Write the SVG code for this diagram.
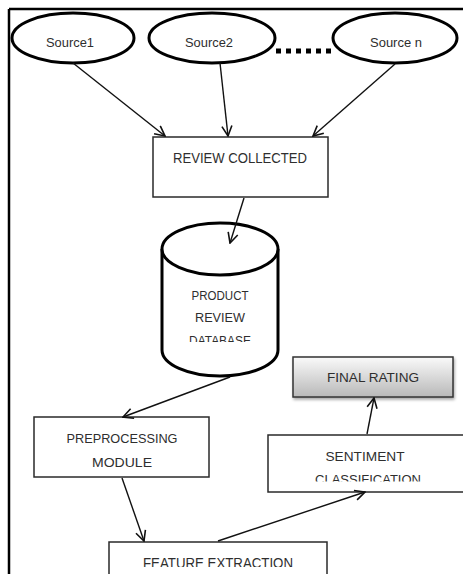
<svg xmlns="http://www.w3.org/2000/svg" width="463" height="574" viewBox="0 0 463 574">
<style>
.t{font-family:"Liberation Sans",Arial,sans-serif;fill:#2e2e2e;text-anchor:middle}
.src{font-size:13px}
.lbl{font-size:12.5px}
.box{fill:#fff;stroke:#2a2a2a;stroke-width:1.5}
.ell{fill:#fff;stroke:#000;stroke-width:3}
.con{stroke:#111;stroke-width:1.4;fill:none;marker-end:url(#arr)}
</style>
<defs>
<marker id="arr" viewBox="0 0 12 12" refX="11" refY="6" markerWidth="12" markerHeight="12" markerUnits="userSpaceOnUse" orient="auto">
<path d="M1,1 L11,6 L1,11" fill="none" stroke="#111" stroke-width="1.6"/>
</marker>
<linearGradient id="g" x1="0" y1="0" x2="0" y2="1">
<stop offset="0" stop-color="#fafafa"/>
<stop offset="1" stop-color="#b8b8b8"/>
</linearGradient>
<filter id="sh" x="-10%" y="-20%" width="130%" height="160%">
<feGaussianBlur in="SourceAlpha" stdDeviation="1.5"/>
<feOffset dx="1" dy="2" result="b"/>
<feComponentTransfer><feFuncA type="linear" slope="0.35"/></feComponentTransfer>
<feMerge><feMergeNode/><feMergeNode in="SourceGraphic"/></feMerge>
</filter>
<clipPath id="cDb"><rect x="150" y="280" width="140" height="62"/></clipPath>
<clipPath id="cSc"><rect x="268" y="440" width="195" height="41.5"/></clipPath>
<clipPath id="cFe"><rect x="109" y="545" width="220" height="22"/></clipPath>
</defs>
<rect width="463" height="574" fill="#fff"/>
<g id="frame" stroke="#000" stroke-width="2.5">
<line x1="9" y1="9" x2="463" y2="9"/>
<line x1="9" y1="9" x2="9" y2="574"/>
</g>
<g id="source1">
<ellipse class="ell" cx="73" cy="38" rx="61" ry="25"/>
<text class="t src" x="70" y="47" textLength="48" lengthAdjust="spacingAndGlyphs">Source1</text>
</g>
<g id="source2">
<ellipse class="ell" cx="212" cy="38" rx="63" ry="25"/>
<text class="t src" x="209" y="47" textLength="48" lengthAdjust="spacingAndGlyphs">Source2</text>
</g>
<g id="sourcen">
<ellipse class="ell" cx="395" cy="38" rx="62" ry="25"/>
<text class="t src" x="396" y="47" textLength="52" lengthAdjust="spacingAndGlyphs">Source n</text>
</g>
<g id="review">
<rect class="box" x="153" y="137" width="175" height="60"/>
<text class="t" style="font-size:14px" x="240" y="163" textLength="134" lengthAdjust="spacingAndGlyphs">REVIEW COLLECTED</text>
</g>
<g id="database">
<path d="M162,249 L162,350 A58,26 0 0 0 278,350 L278,249" fill="#fff" stroke="#000" stroke-width="3"/>
<ellipse cx="220" cy="249" rx="58" ry="26" fill="#fff" stroke="#000" stroke-width="3"/>
<g clip-path="url(#cDb)">
<text class="t lbl" x="220" y="300" textLength="57" lengthAdjust="spacingAndGlyphs">PRODUCT</text>
<text class="t lbl" x="220" y="322" textLength="50" lengthAdjust="spacingAndGlyphs">REVIEW</text>
<text class="t lbl" x="220" y="345" textLength="62" lengthAdjust="spacingAndGlyphs">DATABASE</text>
</g>
</g>
<g id="preprocessing">
<rect class="box" x="34" y="417" width="175" height="60"/>
<text class="t" style="font-size:13.5px" x="122" y="443" textLength="111" lengthAdjust="spacingAndGlyphs">PREPROCESSING</text>
<text class="t" style="font-size:13.5px" x="122" y="467" textLength="60" lengthAdjust="spacingAndGlyphs">MODULE</text>
</g>
<g id="feature">
<rect class="box" x="109" y="542" width="218" height="40"/>
<g clip-path="url(#cFe)">
<text class="t" style="font-size:14px" x="218" y="568" textLength="150" lengthAdjust="spacingAndGlyphs">FEATURE EXTRACTION</text>
</g>
</g>
<g id="sentiment">
<rect class="box" x="268" y="435" width="200" height="57"/>
<text class="t" style="font-size:13.5px" x="365" y="461" textLength="79" lengthAdjust="spacingAndGlyphs">SENTIMENT</text>
<g clip-path="url(#cSc)">
<text class="t" style="font-size:13.5px" x="368" y="484" textLength="106" lengthAdjust="spacingAndGlyphs">CLASSIFICATION</text>
</g>
</g>
<g id="final">
<rect x="293" y="357" width="160" height="40" fill="url(#g)" stroke="#333" stroke-width="1.5" filter="url(#sh)"/>
<text class="t" style="font-size:13.5px" x="373" y="382" textLength="92" lengthAdjust="spacingAndGlyphs">FINAL RATING</text>
</g>
<g id="connectors">
<line class="con" x1="73" y1="63" x2="165" y2="136"/>
<line class="con" x1="220" y1="63" x2="228" y2="136"/>
<line class="con" x1="395" y1="64" x2="313" y2="136"/>
<line class="con" x1="244" y1="198" x2="230" y2="243"/>
<line class="con" x1="230" y1="377" x2="123" y2="417"/>
<line class="con" x1="122" y1="478" x2="144" y2="541"/>
<line class="con" x1="218" y1="541" x2="365" y2="492"/>
<line class="con" x1="367" y1="434" x2="374" y2="398"/>
<line id="dots" x1="276" y1="51" x2="333" y2="51" stroke="#000" stroke-width="5" stroke-dasharray="5 5"/>
</g>
</svg>
